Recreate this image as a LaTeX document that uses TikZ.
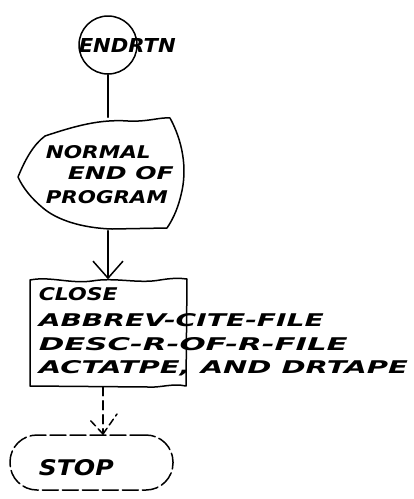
\documentclass[tikz,border=0pt]{standalone}
\usepackage{fontspec}
\setsansfont{DejaVu Sans}
\usepackage{graphicx}
\usetikzlibrary{arrows.meta}
\newcommand\hw[3]{\resizebox{#1pt}{#2pt}{\sffamily\bfseries\itshape #3}}
\begin{document}
\begin{tikzpicture}[x=1pt,y=-1pt,
  line width=1.5pt, line join=round, line cap=round,
  txt/.style={inner sep=0pt, anchor=west},
  box/.style={inner sep=0pt, draw=none},
  vee/.style={-{Straight Barb[length=17pt,width=30pt,line width=1.5pt]}}]
\useasboundingbox (0,0) rectangle (414,499);

% start circle
\node[circle, draw, minimum size=58pt, inner sep=0pt] (c) at (108,45) {};
\node[txt] (ct) at (78,45) {\hw{97}{14}{ENDRTN}};

% banner
\node[box, minimum width=164pt, minimum height=112pt] (b) at (100,174) {};
\draw (18,177) .. controls (25,160) and (33,145) .. (45,136)
  .. controls (75,126) and (100,119) .. (128,121)
  .. controls (148,122) and (160,117) .. (170,118)
  .. controls (182,140) and (188,168) .. (181,195)
  .. controls (177,212) and (171,222) .. (167,228)
  -- (112,229)
  .. controls (82,228) and (57,220) .. (43,208)
  .. controls (31,198) and (23,188) .. (18,177) -- cycle;
\node[txt] (n1) at (45,152) {\hw{105}{13}{NORMAL}};
\node[txt] (n2) at (67,173) {\hw{106}{13}{END OF}};
\node[txt] (n3) at (45,197) {\hw{122}{13}{PROGRAM}};

% process box
\node[box, minimum width=156pt, minimum height=106pt] (p) at (108,333) {};
\draw (30,280) .. controls (50,276) and (70,284) .. (92,281)
  .. controls (115,277) and (138,284) .. (160,280)
  .. controls (172,278) and (180,278) .. (187,279)
  -- (186,386)
  .. controls (172,383) and (160,388) .. (148,387)
  -- (30,386) -- cycle;
\node[txt] (l1) at (38,294) {\hw{79}{13}{CLOSE}};
\node[txt] (l2) at (38,320) {\hw{285}{13}{ABBREV-CITE-FILE}};
\node[txt] (l3) at (38,344) {\hw{309}{13}{DESC-R-OF-R-FILE}};
\node[txt] (l4) at (38,368) {\hw{369}{13}{ACTATPE, AND DRTAPE}};

% stop terminal
\node[draw, rounded corners=27pt, minimum width=163pt, minimum height=55pt,
  inner sep=0pt, dash pattern=on 16pt off 4pt] (s) at (91.5,462.5) {};
\node[txt] (st) at (38,468) {\hw{75}{16}{STOP}};
\coordinate (tip) at (103,434);

% connectors
\draw (c.south) -- (c.south |- b.north);
\draw[vee] (c.south |- b.south) -- (p.north);
\draw[dash pattern=on 9pt off 5pt] (p.south -| tip) -- (tip);
\draw[dash pattern=on 7pt off 4pt] (tip) -- ++(-13,-14);
\draw[dash pattern=on 7pt off 4pt] (tip) -- ++(14,-20);
\end{tikzpicture}
\end{document}
